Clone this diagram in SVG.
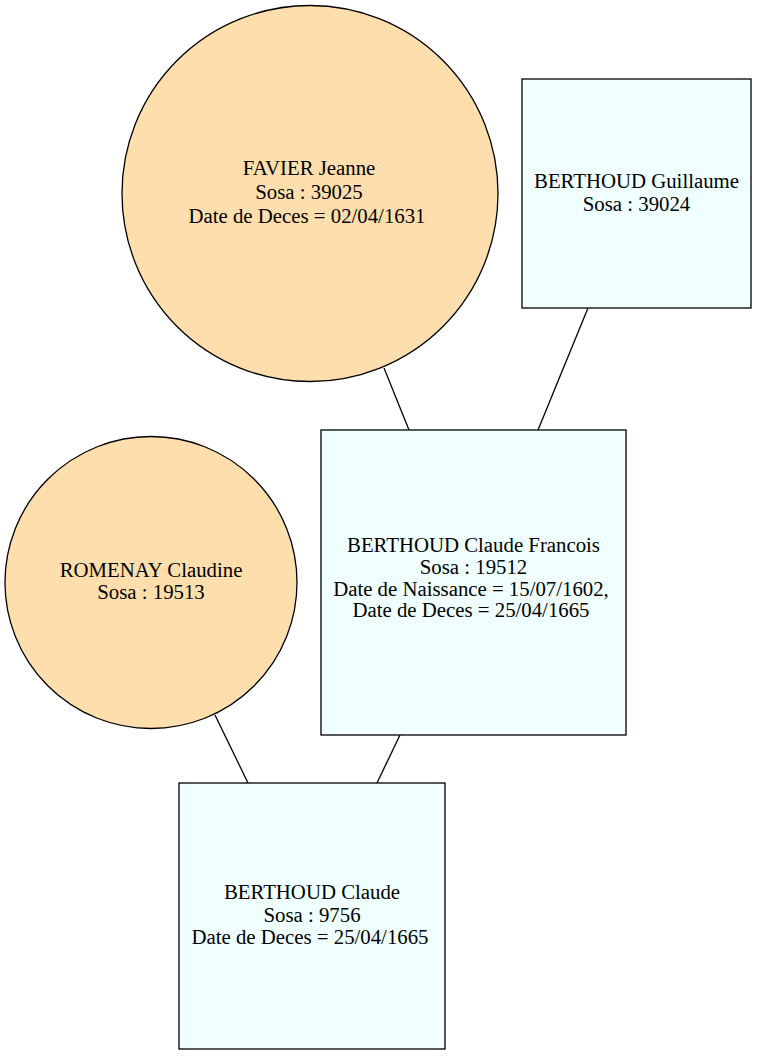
<svg xmlns="http://www.w3.org/2000/svg" width="757" height="1056" viewBox="0 0 757 1056">
<style>
.f{fill:#FFDEAD;stroke:#000;stroke-width:1.3}
.m{fill:#F0FFFF;stroke:#000;stroke-width:1.3}
.e{stroke:#000;stroke-width:1.3;fill:none}
text{font-family:"Liberation Serif","Times New Roman",serif;font-size:20.8px;text-anchor:middle;fill:#000}
</style>
<rect width="757" height="1056" fill="#fff"/>
<g id="connectors">
<line class="e" x1="384" y1="368" x2="409" y2="430"/>
<line class="e" x1="588" y1="308" x2="538" y2="430"/>
<line class="e" x1="215" y1="715" x2="248" y2="783"/>
<line class="e" x1="400" y1="735" x2="377" y2="783"/>
</g>
<g id="favier_jeanne">
<circle class="f" cx="310" cy="193.5" r="188"/>
<text x="309" y="175">FAVIER Jeanne</text>
<text x="309" y="199">Sosa : 39025</text>
<text x="307" y="223">Date de Deces = 02/04/1631</text>
</g>
<g id="berthoud_guillaume">
<rect class="m" x="522" y="79" width="229" height="229"/>
<text x="636.5" y="188">BERTHOUD Guillaume</text>
<text x="636.5" y="211">Sosa : 39024</text>
</g>
<g id="berthoud_claude_francois">
<rect class="m" x="321" y="430" width="305" height="305"/>
<text x="473.5" y="552">BERTHOUD Claude Francois</text>
<text x="473.5" y="574">Sosa : 19512</text>
<text x="471" y="596">Date de Naissance = 15/07/1602,</text>
<text x="471" y="617">Date de Deces = 25/04/1665</text>
</g>
<g id="romenay_claudine">
<circle class="f" cx="151" cy="582.5" r="146"/>
<text x="151" y="577">ROMENAY Claudine</text>
<text x="151" y="599">Sosa : 19513</text>
</g>
<g id="berthoud_claude">
<rect class="m" x="179" y="783" width="266" height="266"/>
<text x="312" y="899">BERTHOUD Claude</text>
<text x="312" y="922">Sosa : 9756</text>
<text x="310" y="944">Date de Deces = 25/04/1665</text>
</g>
</svg>
